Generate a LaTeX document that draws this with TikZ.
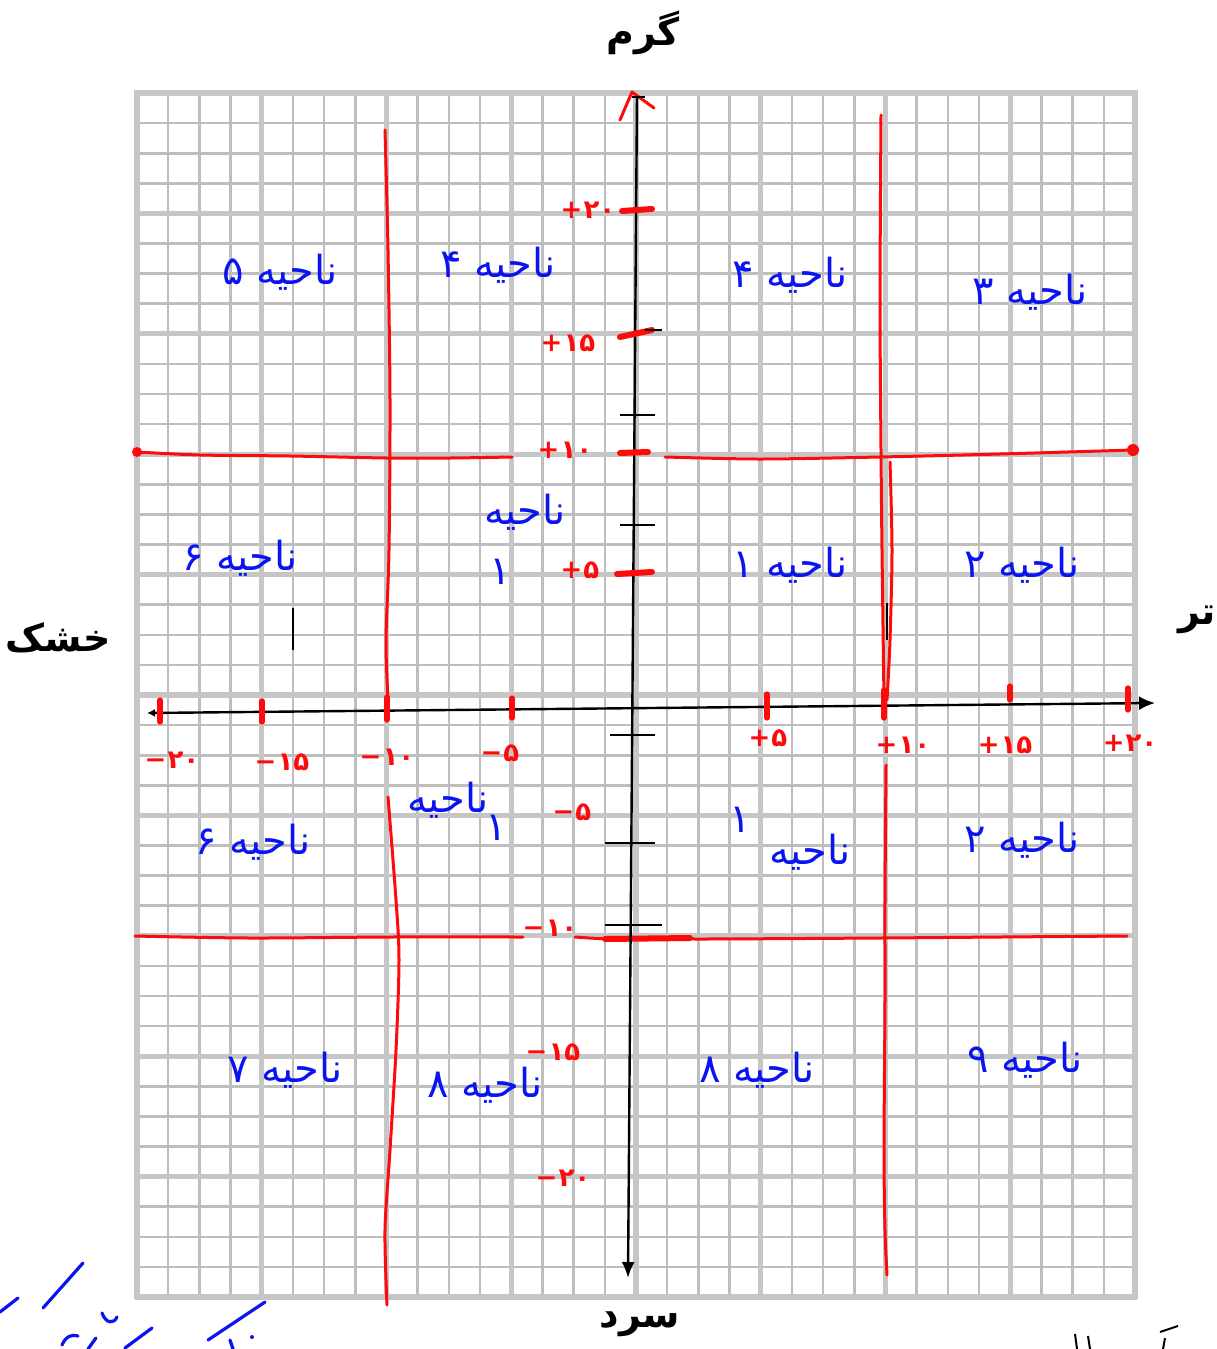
\documentclass[tikz,border=0pt]{standalone}
\usepackage{fontspec}
\newfontfamily\fa[Script=Arabic]{DejaVu Sans}
\TeXXeTstate=1
\usetikzlibrary{arrows.meta}
\definecolor{gridminor}{HTML}{BEBEBE}
\definecolor{gridmajor}{HTML}{C6C6C6}
\definecolor{penred}{HTML}{FF0A0A}
\definecolor{penblue}{HTML}{0A14F0}
\newcommand\sgnnum[2]{\hbox{#1}\kern0.5pt\hbox{#2}}
\tikzset{
  minorline/.style={gridminor, line width=1.3pt},
  majorline/.style={gridmajor, line width=2.6pt},
  redline/.style={penred, line width=1.5pt, line cap=round, line join=round},
  redtick/.style={penred, line width=3pt, line cap=round},
  redmark/.style={penred, line width=2.6pt, line cap=round},
  blacktick/.style={black, line width=1pt},
  axisline/.style={black, line width=1.2pt},
  numlbl/.style={text=penred, font=\fa\bfseries\fontsize{13}{15}\selectfont, inner sep=0pt},
  zone/.style={text=penblue, font=\fa\fontsize{20}{22}\selectfont, inner sep=0pt},
  title/.style={text=black, font=\fa\bfseries\fontsize{19}{22}\selectfont, inner sep=0pt},
  bluestroke/.style={penblue, line width=1.6pt, line cap=round}
}
\begin{document}
\begin{tikzpicture}[x=0.5pt,y=-0.5pt]
\useasboundingbox (0,0) rectangle (1216,1349);
\fill[white] (0,0) rectangle (1216,1349);
% grid
\foreach \i in {0,...,32}{
  \pgfmathsetmacro\xx{137+\i*31.1875}
  \draw[minorline] (\xx,93) -- (\xx,1297);
}
\foreach \j in {0,...,40}{
  \pgfmathsetmacro\yy{93+\j*30.1}
  \draw[minorline] (137,\yy) -- (1135,\yy);
}
\foreach \i in {0,...,8}{
  \pgfmathsetmacro\xx{137+\i*124.75}
  \draw[majorline] (\xx,90) -- (\xx,1299);
}
\foreach \j in {0,...,10}{
  \pgfmathsetmacro\yy{93+\j*120.4}
  \draw[majorline] (135,\yy) -- (1137,\yy);
}
% red region lines
\draw[redline] plot[smooth] coordinates {(385,130) (388,250) (390,400) (389,550) (386,640) (388,700)};
\draw[redline] plot[smooth] coordinates {(388,797) (396,900) (399,960) (396,1050) (390,1150) (385,1230) (387,1305)};
\draw[redline] plot[smooth] coordinates {(881,115) (880,300) (881,450) (882,550) (884,700)};
\draw[redline] plot[smooth] coordinates {(886,765) (885,900) (885,1000) (884,1150) (885,1230) (887,1275)};
\draw[redline] plot[smooth] coordinates {(890,462) (892,550) (890,640) (887,700)};
\draw[redline] plot[smooth] coordinates {(137,452) (200,455) (290,456) (387,458) (450,458) (512,457)};
\draw[redline] plot[smooth] coordinates {(665,457) (760,459) (880,457) (1000,454) (1133,450)};
\fill[penred] (137,452) circle (5);
\fill[penred] (1133,450) circle (6);
\draw[redline] plot[smooth] coordinates {(135,936) (250,938) (390,937) (523,937)};
\draw[redline] plot[smooth] coordinates {(575,937) (610,939) (650,938) (700,939) (880,938) (1000,937) (1127,936)};
\draw[redtick] (605,939) -- (690,938);
% axes
\coordinate (ytop) at (637,95);
\coordinate (ybot) at (628,1278);
\coordinate (xl) at (147,713);
\coordinate (xr) at (1155,703);
\draw[axisline, -{Latex[length=8pt,width=6.5pt]}] (ytop) -- (ybot);
\draw[axisline, {Latex[length=4pt,width=4pt]}-{Latex[length=8pt,width=7pt]}] (xl) -- (xr);
\draw[redline] (620,120) -- (632,92) -- (654,108);
\draw[blacktick] (632,97) -- (645,97);
% y-axis ticks
\draw[redtick] (622,211) -- (652,209);
\draw[redtick] (620,337) -- (652,330);
\draw[redtick] (620,453) -- (648,452);
\draw[redtick] (617,574) -- (652,572);
\draw[blacktick] (645,330) -- (662,330);
\draw[blacktick] (620,415) -- (655,415);
\draw[blacktick] (620,525) -- (655,525);
\draw[blacktick] (610,735) -- (655,735);
\draw[blacktick] (605,843) -- (655,843);
\draw[blacktick] (605,925) -- (662,925);
% x-axis red marks
\foreach \mx/\ma/\mb in {160/700/722, 262/701/722, 387/697/720, 512/698/718, 767/694/718, 884/690/718, 1010/686/700, 1128/688/710}{
  \draw[redmark] (\mx,\ma) -- (\mx,\mb);
}
% black small marks
\draw[black, line width=1.2pt] (293,608) -- (293,650);
\draw[black, line width=1.2pt] (887,603) -- (887,640);
% axis number labels
\node[numlbl] (xm20) at (172,760) {\sgnnum{−}{۲۰}};
\node[numlbl] (xm15) at (282,762) {\sgnnum{−}{۱۵}};
\node[numlbl] (xm10) at (387,757) {\sgnnum{−}{۱۰}};
\node[numlbl] (xm5) at (500,753) {\sgnnum{−}{۵}};
\node[numlbl] (xp5) at (768,738) {\sgnnum{+}{۵}};
\node[numlbl] (xp10) at (903,745) {\sgnnum{+}{۱۰}};
\node[numlbl] (xp15) at (1005,745) {\sgnnum{+}{۱۵}};
\node[numlbl] (xp20) at (1130,743) {\sgnnum{+}{۲۰}};
\node[numlbl] (yp20) at (588,210) {\sgnnum{+}{۲۰}};
\node[numlbl] (yp15) at (568,343) {\sgnnum{+}{۱۵}};
\node[numlbl] (yp10) at (565,450) {\sgnnum{+}{۱۰}};
\node[numlbl] (yp5) at (580,570) {\sgnnum{+}{۵}};
\node[numlbl] (ym5) at (572,812) {\sgnnum{−}{۵}};
\node[numlbl] (ym10) at (550,928) {\sgnnum{−}{۱۰}};
\node[numlbl] (ym15) at (553,1052) {\sgnnum{−}{۱۵}};
\node[numlbl] (ym20) at (563,1178) {\sgnnum{−}{۲۰}};
% zone labels
\node[zone] (z5) at (280,272) {\beginR ناحیه ۵\endR};
\node[zone] (z4a) at (498,265) {\beginR ناحیه ۴\endR};
\node[zone] (z4b) at (790,275) {\beginR ناحیه ۴\endR};
\node[zone] (z3) at (1030,292) {\beginR ناحیه ۳\endR};
\node[zone] (z6a) at (240,558) {\beginR ناحیه ۶\endR};
\node[zone] (z1aw) at (525,512) {\beginR ناحیه\endR};
\node[zone] (z1ad) at (500,572) {۱};
\node[zone] (z1b) at (790,565) {\beginR ناحیه ۱\endR};
\node[zone] (z2a) at (1022,565) {\beginR ناحیه ۲\endR};
\node[zone] (z6b) at (253,842) {\beginR ناحیه ۶\endR};
\node[zone] (z1cw) at (448,800) {\beginR ناحیه\endR};
\node[zone] (z1cd) at (496,828) {۱};
\node[zone] (z1dd) at (740,820) {۱};
\node[zone] (z1dw) at (810,852) {\beginR ناحیه\endR};
\node[zone] (z2b) at (1022,840) {\beginR ناحیه ۲\endR};
\node[zone] (z7) at (285,1070) {\beginR ناحیه ۷\endR};
\node[zone] (z8a) at (485,1085) {\beginR ناحیه ۸\endR};
\node[zone] (z8b) at (757,1070) {\beginR ناحیه ۸\endR};
\node[zone] (z9) at (1025,1060) {\beginR ناحیه ۹\endR};
% titles
\node[title] (warm) at (643,33) {\beginR گرم\endR};
\node[title] (cold) at (640,1324) {\beginR سرد\endR};
\node[title] (dry) at (58,638) {\beginR خشک\endR};
\node[title] (wet) at (1197,620) {\beginR تر\endR};
% bottom scribbles
\draw[bluestroke] (43,1308) -- (83,1263);
\draw[bluestroke] (0,1312) -- (18,1298);
\draw[bluestroke] (208,1340) -- (265,1302);
\draw[bluestroke] (125,1348) -- (152,1328);
\draw[bluestroke] (102,1313) .. controls (106,1324) and (114,1324) .. (117,1317);
\draw[bluestroke] (62,1345) .. controls (66,1336) and (72,1334) .. (78,1336);
\draw[bluestroke] (88,1349) -- (96,1338);
\fill[penblue] (252,1337) circle (2);
\draw[bluestroke] (230,1340) -- (233,1349);
\draw[black, line width=1pt] (1075,1334) -- (1077,1349);
\draw[black, line width=1pt] (1088,1336) -- (1090,1349);
\draw[black, line width=1pt] (1160,1332) -- (1178,1326);
\draw[black, line width=1pt] (1165,1338) -- (1163,1349);
\end{tikzpicture}
\end{document}
